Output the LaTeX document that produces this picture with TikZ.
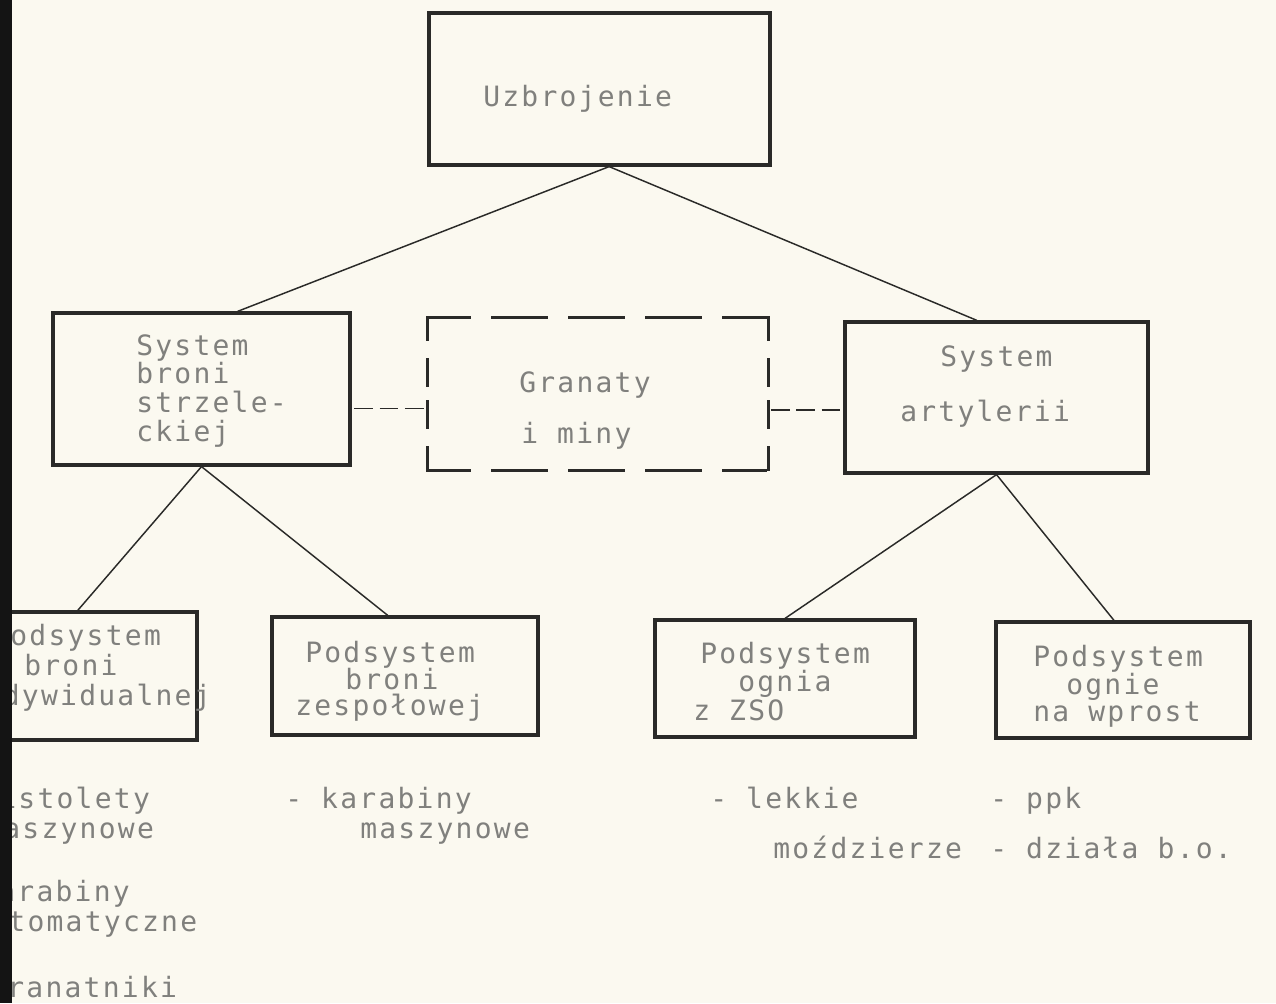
\documentclass[tikz,border=0pt]{standalone}
\usepackage{fontspec}
\newfontfamily\tw[LetterSpace=8]{DejaVu Sans Mono}
\usetikzlibrary{calc}
\definecolor{paper}{RGB}{251,249,240}
\definecolor{ink}{RGB}{42,42,40}
\definecolor{typeink}{RGB}{128,128,125}
\begin{document}
\begin{tikzpicture}[x=0.75pt,y=-0.75pt,
  box/.style={draw=ink,line width=2.4pt,inner sep=0pt,line cap=rect},
  dbox/.style={draw=none,inner sep=0pt},
  dside/.style={draw=ink,line width=2.4pt,line cap=rect},
  link/.style={draw=ink,line width=1.1pt},
  dlink/.style={draw=ink,line width=1.3pt,dash pattern=on 14pt off 5pt,dash phase=-2pt},
  tw/.style={font={\fontsize{21pt}{24pt}\selectfont\tw},text=typeink,inner sep=0pt,anchor=base west},
  twe/.style={tw,anchor=base east}]
\useasboundingbox (0,0) rectangle (1276,1003);
\clip (0,0) rectangle (1276,1003);
\fill[paper] (0,0) rectangle (1276,1003);

% boxes
\node[box,minimum width=255.75pt,minimum height=114pt] (uz) at (599.5,89) {};
\node[box,minimum width=222.75pt,minimum height=114pt] (ls) at (201.5,389) {};
\node[dbox,minimum width=255pt,minimum height=114pt] (gr) at (598,394) {};
\node[box,minimum width=227.25pt,minimum height=113.25pt] (rs) at (996.5,397.5) {};
\node[box,minimum width=155.25pt,minimum height=96pt] (ind) at (93.5,676) {};
\node[box,minimum width=199.5pt,minimum height=88.5pt] (zes) at (405,676) {};
\node[box,minimum width=195pt,minimum height=87.75pt] (zso) at (785,678.5) {};
\node[box,minimum width=190.5pt,minimum height=87pt] (wpr) at (1123,680) {};

% dashed outline of the grenades box, side by side so the corners stay solid
\draw[dside,dash pattern=on 31.5pt off 17.25pt on 40.5pt off 17.25pt on 40.5pt off 17.25pt on 40.5pt off 17.25pt on 31.5pt off 60pt]
  (gr.north west) -- (gr.north east);
\draw[dside,dash pattern=on 31.5pt off 17.25pt on 40.5pt off 17.25pt on 40.5pt off 17.25pt on 40.5pt off 17.25pt on 31.5pt off 60pt]
  (gr.south west) -- (gr.south east);
\draw[dside,dash pattern=on 16.5pt off 15pt on 19.5pt off 12pt on 19.5pt off 15pt on 16.5pt off 40pt]
  (gr.north west) -- (gr.south west);
\draw[dside,dash pattern=on 16.5pt off 15pt on 19.5pt off 12pt on 19.5pt off 15pt on 16.5pt off 40pt]
  (gr.north east) -- (gr.south east);

% tree connectors
\draw[link] ($(uz.south west)!0.528!(uz.south east)$) -- ($(ls.north west)!0.62!(ls.north east)$);
\draw[link] ($(uz.south west)!0.528!(uz.south east)$) -- ($(rs.north west)!0.436!(rs.north east)$);
\draw[link] (ls.south) -- ($(ind.north west)!0.425!(ind.north east)$);
\draw[link] (ls.south) -- ($(zes.north west)!0.436!(zes.north east)$);
\draw[link] (rs.south) -- (zso.north);
\draw[link] (rs.south) -- ($(wpr.north west)!0.465!(wpr.north east)$);

% dashed links to the grenades box
\coordinate (lsl) at ($(ls.north east)!0.625!(ls.south east)$);
\coordinate (grr) at ($(gr.north east)!0.605!(gr.south east)$);
\draw[dlink] (lsl) -- (lsl -| gr.west);
\draw[dlink] (grr) -- (grr -| rs.west);

% box texts
\node[tw] (t-uz) at (483,106) {Uzbrojenie};

\node[tw] (t-ls1) at (136,355) {System};
\node[tw] (t-ls2) at (136,383) {broni};
\node[tw] (t-ls3) at (136,412) {strzele-};
\node[tw] (t-ls4) at (136,441) {ckiej};

\node[tw] (t-gr1) at (519,392) {Granaty};
\node[tw] (t-gr2) at (521,443) {i miny};

\node[tw] (t-rs1) at (940,366) {System};
\node[tw] (t-rs2) at (900,421) {artylerii};

\node[tw] (t-in1) at (-9,645) {Podsystem};
\node[tw] (t-in2) at (24,675) {broni};
\node[twe] (t-in3) at (211,705) {indywidualnej};

\node[tw] (t-ze1) at (305,662) {Podsystem};
\node[tw] (t-ze2) at (345,689) {broni};
\node[tw] (t-ze3) at (295,715) {zespołowej};

\node[tw] (t-zs1) at (700,663) {Podsystem};
\node[tw] (t-zs2) at (738,691) {ognia};
\node[tw] (t-zs3) at (693,720) {z ZSO};

\node[tw] (t-wp1) at (1033,666) {Podsystem};
\node[tw] (t-wp2) at (1066,694) {ognie};
\node[tw] (t-wp3) at (1033,721) {na wprost};

% lists of weapons
\node[tw] (l-a1) at (-20,808) {pistolety};
\node[tw] (l-a2) at (-16,838) {maszynowe};
\node[tw] (l-a3) at (-21,901) {karabiny};
\node[tw] (l-a4) at (-30,931) {automatyczne};
\node[tw] (l-a5) at (-12,997) {granatniki};

\node[tw] (l-b1) at (285,808) {- karabiny};
\node[tw] (l-b2) at (360,838) {maszynowe};

\node[tw] (l-c1) at (710,808) {- lekkie};
\node[tw] (l-c2) at (773,858) {moździerze};

\node[tw] (l-d1) at (990,808) {- ppk};
\node[tw] (l-d2) at (990,858) {- działa b.o.};

% dark scanner edge along the left margin
\fill[black!92] (0,0) rectangle (12,1003);
\end{tikzpicture}
\end{document}
